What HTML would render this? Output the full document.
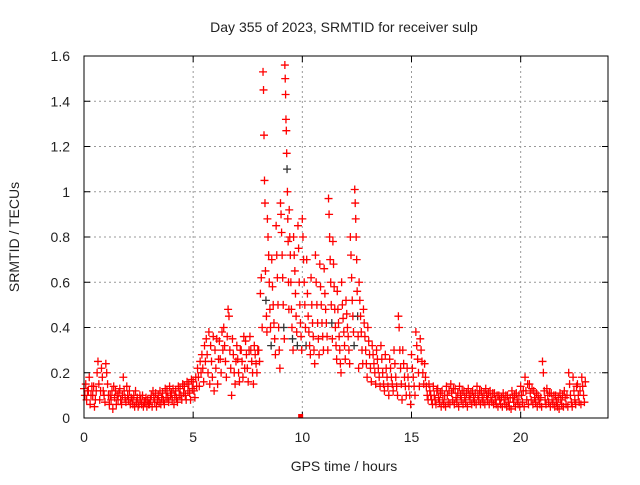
<!DOCTYPE html>
<html><head><meta charset="utf-8"><style>
body{margin:0;background:#fff;}
svg text{font-family:"Liberation Sans",sans-serif;fill:#222;}
</style></head><body>
<svg id="chart" width="640" height="480" xmlns="http://www.w3.org/2000/svg">
<rect width="640" height="480" fill="#fff"/>
<text x="344" y="32" font-size="14" text-anchor="middle">Day 355 of 2023, SRMTID for receiver sulp</text>
<text x="344" y="471" font-size="14" text-anchor="middle">GPS time / hours</text>
<text transform="translate(19,237) rotate(-90)" font-size="14" text-anchor="middle">SRMTID / TECUs</text>
<g id="grid"></g>
<g id="ticks"></g>
<g id="points"></g>
<rect x="84" y="56" width="524" height="362" fill="none" stroke="#000" stroke-width="1"/>
</svg>
<script>
const xTicks=[0,5,10,15,20];
const yTicks=[0,0.2,0.4,0.6,0.8,1,1.2,1.4,1.6];
const yTickLabels=["0","0.2","0.4","0.6","0.8","1","1.2","1.4","1.6"];
const times=[0,0.2,0.4,0.6,0.8,1.0,1.2,1.4,1.6,1.8,2.0,2.2,2.4,2.6,2.8,3.0,3.2,3.4,3.6,3.8,4.0,4.2,4.4,4.6,4.8,5.0,5.2,5.4,5.6,5.8,6.0,6.2,6.4,6.6,6.8,7.0,7.2,7.4,7.6,7.8,8.0,8.2,8.4,8.6,8.8,9.0,9.2,9.4,9.6,9.8,10.0,10.2,10.4,10.6,10.8,11.0,11.2,11.4,11.6,11.8,12.0,12.2,12.4,12.6,12.8,13.0,13.2,13.4,13.6,13.8,14.0,14.2,14.4,14.6,14.8,15.0,15.2,15.4,15.6,15.8,16.0,16.2,16.4,16.6,16.8,17.0,17.2,17.4,17.6,17.8,18.0,18.2,18.4,18.6,18.8,19.0,19.2,19.4,19.6,19.8,20.0,20.2,20.4,20.6,20.8,21.0,21.2,21.4,21.6,21.8,22.0,22.2,22.4,22.6,22.8];
const values=[
[.13,.10,.15,.08,.12],[.12,.18,.06,.10,.14],[.10,.14,.05,.08,.12],[.20,.25,.15,.08,.12],[.22,.18,.12,.10,.07],
[.24,.20,.15,.10,.06],[.10,.08,.12,.04,.14],[.09,.12,.06,.10,.08],[.11,.13,.08,.06,.10],[.18,.12,.09,.07,.14],
[.10,.08,.12,.06,.09],[.08,.06,.10,.05,.12],[.07,.09,.05,.06,.10],[.08,.06,.10,.05,.07],[.07,.09,.05,.08,.06],
[.06,.08,.10,.05,.12],[.09,.07,.11,.05,.08],[.10,.07,.12,.06,.09],[.11,.08,.06,.13,.09],[.12,.09,.07,.14,.10],
[.11,.08,.13,.06,.10],[.12,.09,.07,.14,.10],[.13,.10,.08,.15,.11],[.14,.10,.08,.16,.12],[.15,.11,.08,.17,.13],
[.16,.12,.09,.18,.14],[.22,.18,.14,.25,.20],[.28,.22,.16,.32,.25],[.35,.28,.20,.38,.15],[.32,.25,.18,.36,.12],
[.30,.22,.35,.15,.26],[.34,.26,.20,.38,.30],[.40,.32,.25,.18,.36],[.48,.45,.30,.22,.10],[.35,.28,.20,.15,.25],
[.32,.26,.20,.16,.30],[.30,.25,.18,.36,.22],[.34,.28,.22,.16,.30],[.36,.30,.25,.20,.15],[.32,.28,.24,.20,.30],
[.30,.25,.55,.62,.40],[1.53,1.45,1.25,1.05,.95,.65,.52,.45,.38],[.88,.80,.72,.60,.48,.40,.32],[.70,.58,.50,.42,.35,.28],
[.85,.72,.62,.50,.40,.30,.22],[.95,.90,.82,.72,.62,.50,.40,.35],[1.56,1.50,1.43,1.32,1.27,1.17,1.10,1.00,.88,.78,.60,.48],
[.92,.80,.72,.60,.48,.40,.35,.30],[.80,.72,.65,.55,.45,.38,.32],[.85,.75,.60,.50,.42,.36,.30],[.88,.80,.70,.60,.50,.40,.32],
[.70,.55,.45,.38,.32,.28],[.62,.50,.42,.36,.30,.24],[.72,.60,.50,.42,.35,.28],[.68,.58,.50,.42,.36,.30],[.66,.55,.48,.42,.36,.30],
[.97,.90,.80,.70,.60,.50,.42,.35],[.78,.68,.58,.48,.40,.32,.26],[.56,.48,.42,.36,.30,.24,.20],[.60,.50,.44,.38,.32,.26],
[.52,.46,.40,.36,.30,.24],[.80,.72,.62,.52,.45,.38,.32],[1.01,.95,.88,.80,.70,.56,.45,.36,.22],[.60,.52,.45,.38,.30,.24],
[.48,.42,.36,.30,.24,.18],[.40,.34,.28,.22,.16],[.32,.28,.24,.20,.15],[.30,.26,.22,.18,.14],[.32,.26,.20,.15,.12],
[.28,.22,.18,.14,.10],[.26,.22,.18,.15,.12],[.30,.24,.18,.14,.10],[.45,.40,.30,.22,.15,.08],[.30,.24,.18,.14,.10],
[.22,.18,.14,.10,.06],[.28,.22,.18,.14,.10],[.38,.32,.26,.20,.14],[.35,.30,.25,.20,.15],[.24,.18,.14,.10,.08],
[.15,.12,.10,.08,.06],[.14,.10,.08,.06,.12],[.13,.09,.07,.11,.05],[.12,.08,.06,.10,.05],[.14,.10,.07,.12,.06],
[.15,.11,.08,.13,.06],[.13,.09,.07,.11,.05],[.14,.10,.08,.12,.06],[.12,.09,.07,.11,.05],[.13,.10,.08,.11,.06],
[.12,.09,.07,.11,.06],[.14,.10,.08,.12,.06],[.12,.09,.07,.11,.06],[.13,.10,.08,.11,.06],[.12,.09,.07,.11,.06],
[.11,.08,.06,.10,.05],[.10,.08,.06,.09,.05],[.11,.08,.06,.10,.05],[.10,.07,.05,.09,.04],[.12,.09,.07,.10,.05],
[.11,.08,.06,.10,.05],[.14,.10,.07,.12,.05],[.18,.12,.08,.15,.06],[.15,.11,.08,.13,.06],[.12,.09,.07,.11,.05],
[.10,.08,.06,.09,.05],[.25,.20,.12,.08,.06],[.13,.10,.07,.11,.05],[.11,.08,.06,.10,.05],[.10,.07,.05,.09,.04],
[.11,.08,.06,.10,.05],[.12,.09,.06,.10,.05],[.20,.15,.10,.07,.05],[.18,.12,.08,.06,.14],[.15,.10,.07,.12,.06],[.18,.14,.10,.07,.16]
];
const NS="http://www.w3.org/2000/svg";
const X0=84,X1=608,Y0=418,Y1=56,XMAX=24,YMAX=1.6;
function sx(v){return X0+(v/XMAX)*(X1-X0);}
function sy(v){return Y0-(v/YMAX)*(Y0-Y1);}
const grid=document.getElementById('grid'),ticks=document.getElementById('ticks'),pts=document.getElementById('points');
function mk(tag,attrs,parent){const e=document.createElementNS(NS,tag);for(const k in attrs)e.setAttribute(k,attrs[k]);parent.appendChild(e);return e;}
yTicks.forEach((v,i)=>{
  const y=sy(v);
  if(i>0&&i<yTicks.length-1){const g=mk('line',{x1:X0,x2:X1,y1:y,y2:y,stroke:'#999','stroke-dasharray':'2,3','stroke-width':1},grid);
  
  }
  const t=mk('line',{x1:X0,x2:X0+6,y1:y,y2:y,stroke:'#000'},ticks);
  
  
  const t2=mk('line',{x1:X1-6,x2:X1,y1:y,y2:y,stroke:'#000'},ticks);
  
  
  const l=mk('text',{x:X0-14,y:y+5,'font-size':14,'text-anchor':'end'},ticks);l.textContent=yTickLabels[i];
  
  
});
xTicks.forEach(v=>{
  const x=sx(v);
  if(v>0){const g=mk('line',{x1:x,x2:x,y1:Y0,y2:Y1,stroke:'#999','stroke-dasharray':'2,3','stroke-width':1},grid);
  
  }
  const t=mk('line',{x1:x,x2:x,y1:Y0,y2:Y0-6,stroke:'#000'},ticks);
  
  
  const t2=mk('line',{x1:x,x2:x,y1:Y1,y2:Y1+6,stroke:'#000'},ticks);
  
  
  const l=mk('text',{x:x,y:Y0+24,'font-size':14,'text-anchor':'middle'},ticks);l.textContent=String(v);
  
  
});
times.forEach((t,i)=>{
  const vs=values[i];
  vs.forEach((v,j)=>{
    const x=sx(t+j*0.2/vs.length),y=sy(v);
    const col=(j%7===6&&v>0.3)?'#333':'#f00';
    const p=mk('path',{d:`M${x-4},${y}h8M${x},${y-4}v8`,stroke:col,'stroke-width':1.3,fill:'none'},pts);
    
    
  });
});
const sq=mk('rect',{x:sx(9.9)-2,y:Y0-4,width:5,height:4,fill:'#f00'},pts);


</script>
</body></html>
